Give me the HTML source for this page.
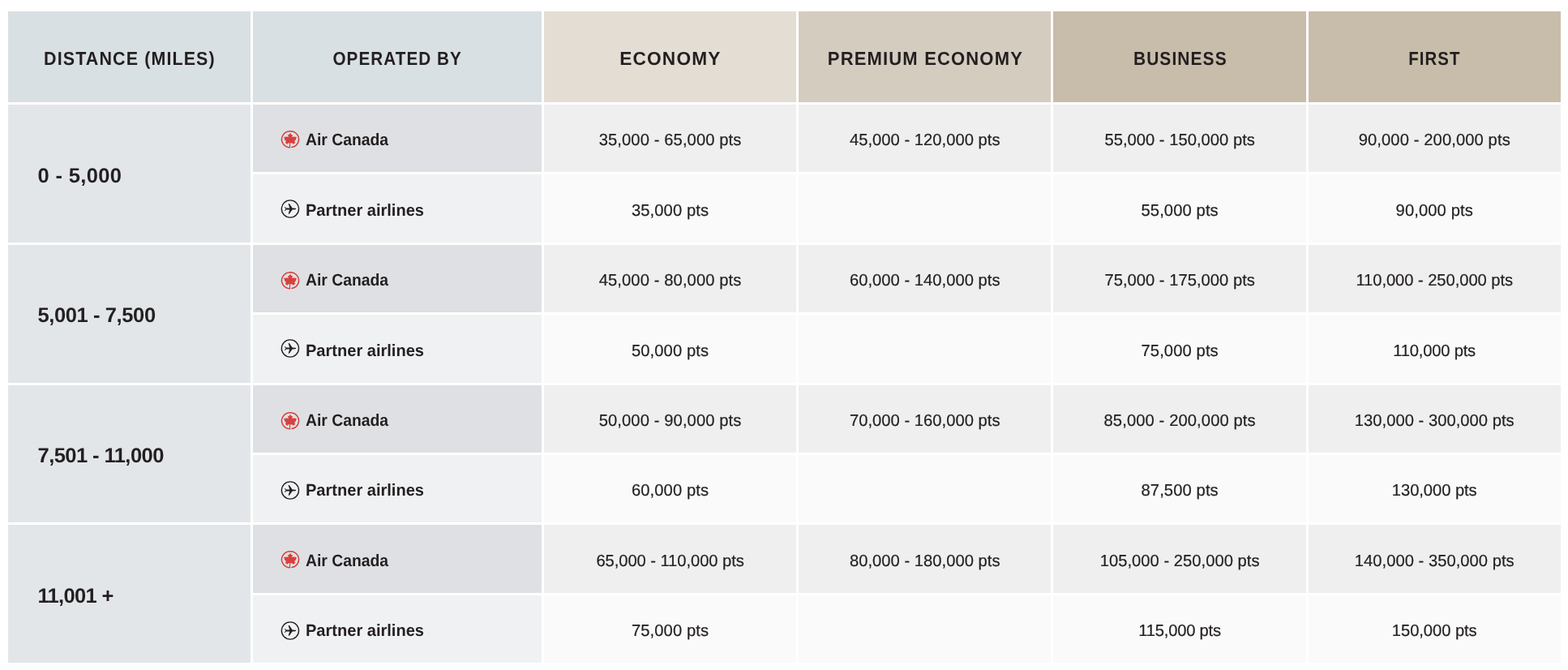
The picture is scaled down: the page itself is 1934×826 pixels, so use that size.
<!DOCTYPE html>
<html lang="en">
<head>
<meta charset="utf-8">
<title>Flight reward chart</title>
<style>
html,body{margin:0;padding:0;background:#fff;}
body{width:1934px;height:826px;position:relative;overflow:hidden;font-family:"Liberation Sans",Arial,sans-serif;color:#231f20;text-rendering:geometricPrecision;}
table,thead,tbody,tr{display:contents;}
.c{position:absolute;display:flex;align-items:center;justify-content:center;box-sizing:border-box;white-space:nowrap;padding:0;margin:0;border:0;font-weight:normal;text-align:left;}
.c.h{top:14px;height:112px;font-weight:bold;font-size:23.1px;}
.h span{position:relative;top:2.6px;display:inline-block;}
.c.dist{left:10px;width:299px;height:169.8px;justify-content:flex-start;padding-left:36.5px;font-weight:bold;font-size:25.5px;background:#e2e6e9;}
.dist span{position:relative;top:3.2px;}
.c.op{left:312px;width:356px;height:83.4px;justify-content:flex-start;padding-left:65px;font-weight:bold;font-size:20.6px;}
.op span{position:relative;top:2.4px;display:inline-block;transform-origin:0 50%;}
.ic{position:absolute;left:31px;display:block;}
.d{height:83.4px;font-size:20.2px;letter-spacing:0.1px;-webkit-text-stroke:0.2px #231f20;}
.d span{position:relative;top:1.4px;left:0px;}
.a{background:#efefef;}
.p{background:#fafafa;}
.op.a{background:#dfe0e3;}
.op.p{background:#f0f1f2;}
</style>
</head>
<body>
<table>
<thead>
<tr>
<th class="c h" style="left:10px;width:299px;background:#d9e0e3"><span style="letter-spacing:1.2px;margin-right:-1.2px;transform:scaleX(0.9289)">DISTANCE (MILES)</span></th>
<th class="c h" style="left:312px;width:356px;background:#d9e0e3"><span style="letter-spacing:1.2px;margin-right:-1.2px;transform:scaleX(0.8941)">OPERATED BY</span></th>
<th class="c h" style="left:671px;width:311.17px;background:#e4ddd3"><span style="letter-spacing:1.2px;margin-right:-1.2px;transform:scaleX(0.9823)">ECONOMY</span></th>
<th class="c h" style="left:985.17px;width:311.17px;background:#d5ccc0"><span style="letter-spacing:1.2px;margin-right:-1.2px;transform:scaleX(0.9539)">PREMIUM ECONOMY</span></th>
<th class="c h" style="left:1299.33px;width:311.67px;background:#c8bdaa"><span style="letter-spacing:1.2px;margin-right:-1.2px;transform:scaleX(0.9068)">BUSINESS</span></th>
<th class="c h" style="left:1613.5px;width:311.5px;background:#c8bdaa"><span style="letter-spacing:1.2px;margin-right:-1.2px;transform:scaleX(0.8829)">FIRST</span></th>
</tr>
</thead>
<tbody>
<tr>
<th class="c dist" rowspan="2" scope="rowgroup" style="top:129.0px"><span style="letter-spacing:0.349px">0 - 5,000</span></th>
<td class="c op a" style="top:129.0px"><svg class="ic" style="top:28px" viewBox="0 0 30 30" width="30" height="30"><path d="M16.25 24.63A10.5 10 0 1 0 14.5 24.69" fill="none" stroke="#d63a36" stroke-width="1.45"/><path d="M14.5 19.4V25.35" fill="none" stroke="#d63a36" stroke-width="1.1"/><polygon fill="#d9413d" points="15.00,6.80 16.40,9.10 17.90,9.00 17.20,11.90 19.20,11.50 22.90,12.10 21.90,14.30 22.30,14.90 20.20,16.80 21.10,19.10 18.70,20.80 17.20,19.20 15.40,19.50 14.60,19.50 12.80,19.20 11.30,20.80 8.90,19.10 9.80,16.80 7.70,14.90 8.10,14.30 7.10,12.10 10.80,11.50 12.80,11.90 12.10,9.00 13.60,9.10 15.00,6.80"/></svg><span style="transform:scaleX(0.9389);top:2.4px">Air Canada</span></td>
<td class="c d a" style="top:129.0px;left:671px;width:311.17px"><span style="top:2.4px">35,000 - 65,000 pts</span></td>
<td class="c d a" style="top:129.0px;left:985.17px;width:311.17px"><span style="top:2.4px;letter-spacing:0.016px;margin-right:-0.016px">45,000 - 120,000 pts</span></td>
<td class="c d a" style="top:129.0px;left:1299.33px;width:311.67px"><span style="top:2.4px;letter-spacing:0.016px;margin-right:-0.016px">55,000 - 150,000 pts</span></td>
<td class="c d a" style="top:129.0px;left:1613.5px;width:311.5px"><span style="top:2.4px">90,000 - 200,000 pts</span></td>
</tr>
<tr>
<td class="c op p" style="top:215.4px"><svg class="ic" style="top:27.6px" viewBox="0 0 30 30" width="30" height="30"><circle cx="14.93" cy="14.53" r="10.6" fill="none" stroke="#231f20" stroke-width="1.35"/><path fill="#231f20" d="M22.3 14.46L21.4 13.75L17.6 13.4L13.8 8.1L12.6 8.3L14.3 13.4L10.2 13.45L8.3 11.9L7.8 12.3L9.5 14.46L7.8 16.62L8.3 17.02L10.2 15.47L14.3 15.52L12.6 20.62L13.8 20.82L17.6 15.52L21.4 15.17Z"/></svg><span style="transform:scaleX(0.9735);top:3.4px">Partner airlines</span></td>
<td class="c d p" style="top:215.4px;left:671px;width:311.17px"><span style="top:3.4px">35,000 pts</span></td>
<td class="c d p" style="top:215.4px;left:985.17px;width:311.17px"><span style="top:3.4px"></span></td>
<td class="c d p" style="top:215.4px;left:1299.33px;width:311.67px"><span style="top:3.4px">55,000 pts</span></td>
<td class="c d p" style="top:215.4px;left:1613.5px;width:311.5px"><span style="top:3.4px">90,000 pts</span></td>
</tr>
<tr>
<th class="c dist" rowspan="2" scope="rowgroup" style="top:301.8px"><span style="letter-spacing:-0.393px">5,001 - 7,500</span></th>
<td class="c op a" style="top:301.8px"><svg class="ic" style="top:28.75px" viewBox="0 0 30 30" width="30" height="30"><path d="M16.25 24.63A10.5 10 0 1 0 14.5 24.69" fill="none" stroke="#d63a36" stroke-width="1.45"/><path d="M14.5 19.4V25.35" fill="none" stroke="#d63a36" stroke-width="1.1"/><polygon fill="#d9413d" points="15.00,6.80 16.40,9.10 17.90,9.00 17.20,11.90 19.20,11.50 22.90,12.10 21.90,14.30 22.30,14.90 20.20,16.80 21.10,19.10 18.70,20.80 17.20,19.20 15.40,19.50 14.60,19.50 12.80,19.20 11.30,20.80 8.90,19.10 9.80,16.80 7.70,14.90 8.10,14.30 7.10,12.10 10.80,11.50 12.80,11.90 12.10,9.00 13.60,9.10 15.00,6.80"/></svg><span style="transform:scaleX(0.9389);top:2.4px">Air Canada</span></td>
<td class="c d a" style="top:301.8px;left:671px;width:311.17px"><span style="top:3.4px">45,000 - 80,000 pts</span></td>
<td class="c d a" style="top:301.8px;left:985.17px;width:311.17px"><span style="top:3.4px;letter-spacing:0.016px;margin-right:-0.016px">60,000 - 140,000 pts</span></td>
<td class="c d a" style="top:301.8px;left:1299.33px;width:311.67px"><span style="top:3.4px;letter-spacing:0.016px;margin-right:-0.016px">75,000 - 175,000 pts</span></td>
<td class="c d a" style="top:301.8px;left:1613.5px;width:311.5px"><span style="top:3.4px;letter-spacing:-0.06px;margin-right:0.06px">110,000 - 250,000 pts</span></td>
</tr>
<tr>
<td class="c op p" style="top:388.2px"><svg class="ic" style="top:26.6px" viewBox="0 0 30 30" width="30" height="30"><circle cx="14.93" cy="14.53" r="10.6" fill="none" stroke="#231f20" stroke-width="1.35"/><path fill="#231f20" d="M22.3 14.46L21.4 13.75L17.6 13.4L13.8 8.1L12.6 8.3L14.3 13.4L10.2 13.45L8.3 11.9L7.8 12.3L9.5 14.46L7.8 16.62L8.3 17.02L10.2 15.47L14.3 15.52L12.6 20.62L13.8 20.82L17.6 15.52L21.4 15.17Z"/></svg><span style="transform:scaleX(0.9735);top:3.4px">Partner airlines</span></td>
<td class="c d p" style="top:388.2px;left:671px;width:311.17px"><span style="top:3.4px">50,000 pts</span></td>
<td class="c d p" style="top:388.2px;left:985.17px;width:311.17px"><span style="top:3.4px"></span></td>
<td class="c d p" style="top:388.2px;left:1299.33px;width:311.67px"><span style="top:3.4px">75,000 pts</span></td>
<td class="c d p" style="top:388.2px;left:1613.5px;width:311.5px"><span style="top:3.4px;letter-spacing:-0.22px;margin-right:0.22px">110,000 pts</span></td>
</tr>
<tr>
<th class="c dist" rowspan="2" scope="rowgroup" style="top:474.6px"><span style="letter-spacing:-0.556px">7,501 - 11,000</span></th>
<td class="c op a" style="top:474.6px"><svg class="ic" style="top:28.95px" viewBox="0 0 30 30" width="30" height="30"><path d="M16.25 24.63A10.5 10 0 1 0 14.5 24.69" fill="none" stroke="#d63a36" stroke-width="1.45"/><path d="M14.5 19.4V25.35" fill="none" stroke="#d63a36" stroke-width="1.1"/><polygon fill="#d9413d" points="15.00,6.80 16.40,9.10 17.90,9.00 17.20,11.90 19.20,11.50 22.90,12.10 21.90,14.30 22.30,14.90 20.20,16.80 21.10,19.10 18.70,20.80 17.20,19.20 15.40,19.50 14.60,19.50 12.80,19.20 11.30,20.80 8.90,19.10 9.80,16.80 7.70,14.90 8.10,14.30 7.10,12.10 10.80,11.50 12.80,11.90 12.10,9.00 13.60,9.10 15.00,6.80"/></svg><span style="transform:scaleX(0.9389);top:2.4px">Air Canada</span></td>
<td class="c d a" style="top:474.6px;left:671px;width:311.17px"><span style="top:3.4px">50,000 - 90,000 pts</span></td>
<td class="c d a" style="top:474.6px;left:985.17px;width:311.17px"><span style="top:3.4px;letter-spacing:0.016px;margin-right:-0.016px">70,000 - 160,000 pts</span></td>
<td class="c d a" style="top:474.6px;left:1299.33px;width:311.67px"><span style="top:3.4px">85,000 - 200,000 pts</span></td>
<td class="c d a" style="top:474.6px;left:1613.5px;width:311.5px"><span style="top:3.4px;letter-spacing:0.02px;margin-right:-0.02px">130,000 - 300,000 pts</span></td>
</tr>
<tr>
<td class="c op p" style="top:561.0px"><svg class="ic" style="top:28.6px" viewBox="0 0 30 30" width="30" height="30"><circle cx="14.93" cy="14.53" r="10.6" fill="none" stroke="#231f20" stroke-width="1.35"/><path fill="#231f20" d="M22.3 14.46L21.4 13.75L17.6 13.4L13.8 8.1L12.6 8.3L14.3 13.4L10.2 13.45L8.3 11.9L7.8 12.3L9.5 14.46L7.8 16.62L8.3 17.02L10.2 15.47L14.3 15.52L12.6 20.62L13.8 20.82L17.6 15.52L21.4 15.17Z"/></svg><span style="transform:scaleX(0.9735);top:2.4px">Partner airlines</span></td>
<td class="c d p" style="top:561.0px;left:671px;width:311.17px"><span style="top:2.4px">60,000 pts</span></td>
<td class="c d p" style="top:561.0px;left:985.17px;width:311.17px"><span style="top:2.4px"></span></td>
<td class="c d p" style="top:561.0px;left:1299.33px;width:311.67px"><span style="top:2.4px">87,500 pts</span></td>
<td class="c d p" style="top:561.0px;left:1613.5px;width:311.5px"><span style="top:2.4px;letter-spacing:-0.06px;margin-right:0.06px">130,000 pts</span></td>
</tr>
<tr>
<th class="c dist" rowspan="2" scope="rowgroup" style="top:647.4px"><span style="letter-spacing:-0.672px">11,001 +</span></th>
<td class="c op a" style="top:647.4px"><svg class="ic" style="top:27.25px" viewBox="0 0 30 30" width="30" height="30"><path d="M16.25 24.63A10.5 10 0 1 0 14.5 24.69" fill="none" stroke="#d63a36" stroke-width="1.45"/><path d="M14.5 19.4V25.35" fill="none" stroke="#d63a36" stroke-width="1.1"/><polygon fill="#d9413d" points="15.00,6.80 16.40,9.10 17.90,9.00 17.20,11.90 19.20,11.50 22.90,12.10 21.90,14.30 22.30,14.90 20.20,16.80 21.10,19.10 18.70,20.80 17.20,19.20 15.40,19.50 14.60,19.50 12.80,19.20 11.30,20.80 8.90,19.10 9.80,16.80 7.70,14.90 8.10,14.30 7.10,12.10 10.80,11.50 12.80,11.90 12.10,9.00 13.60,9.10 15.00,6.80"/></svg><span style="transform:scaleX(0.9389);top:3.4px">Air Canada</span></td>
<td class="c d a" style="top:647.4px;left:671px;width:311.17px"><span style="top:3.4px;letter-spacing:-0.068px;margin-right:0.068px">65,000 - 110,000 pts</span></td>
<td class="c d a" style="top:647.4px;left:985.17px;width:311.17px"><span style="top:3.4px;letter-spacing:0.016px;margin-right:-0.016px">80,000 - 180,000 pts</span></td>
<td class="c d a" style="top:647.4px;left:1299.33px;width:311.67px"><span style="top:3.4px;letter-spacing:0.02px;margin-right:-0.02px">105,000 - 250,000 pts</span></td>
<td class="c d a" style="top:647.4px;left:1613.5px;width:311.5px"><span style="top:3.4px;letter-spacing:0.02px;margin-right:-0.02px">140,000 - 350,000 pts</span></td>
</tr>
<tr>
<td class="c op p" style="top:733.8px"><svg class="ic" style="top:29.2px" viewBox="0 0 30 30" width="30" height="30"><circle cx="14.93" cy="14.53" r="10.6" fill="none" stroke="#231f20" stroke-width="1.35"/><path fill="#231f20" d="M22.3 14.46L21.4 13.75L17.6 13.4L13.8 8.1L12.6 8.3L14.3 13.4L10.2 13.45L8.3 11.9L7.8 12.3L9.5 14.46L7.8 16.62L8.3 17.02L10.2 15.47L14.3 15.52L12.6 20.62L13.8 20.82L17.6 15.52L21.4 15.17Z"/></svg><span style="transform:scaleX(0.9735);top:2.4px">Partner airlines</span></td>
<td class="c d p" style="top:733.8px;left:671px;width:311.17px"><span style="top:3.4px">75,000 pts</span></td>
<td class="c d p" style="top:733.8px;left:985.17px;width:311.17px"><span style="top:3.4px"></span></td>
<td class="c d p" style="top:733.8px;left:1299.33px;width:311.67px"><span style="top:3.4px;letter-spacing:-0.22px;margin-right:0.22px">115,000 pts</span></td>
<td class="c d p" style="top:733.8px;left:1613.5px;width:311.5px"><span style="top:3.4px;letter-spacing:-0.06px;margin-right:0.06px">150,000 pts</span></td>
</tr>
</tbody>
</table>
</body>
</html>
